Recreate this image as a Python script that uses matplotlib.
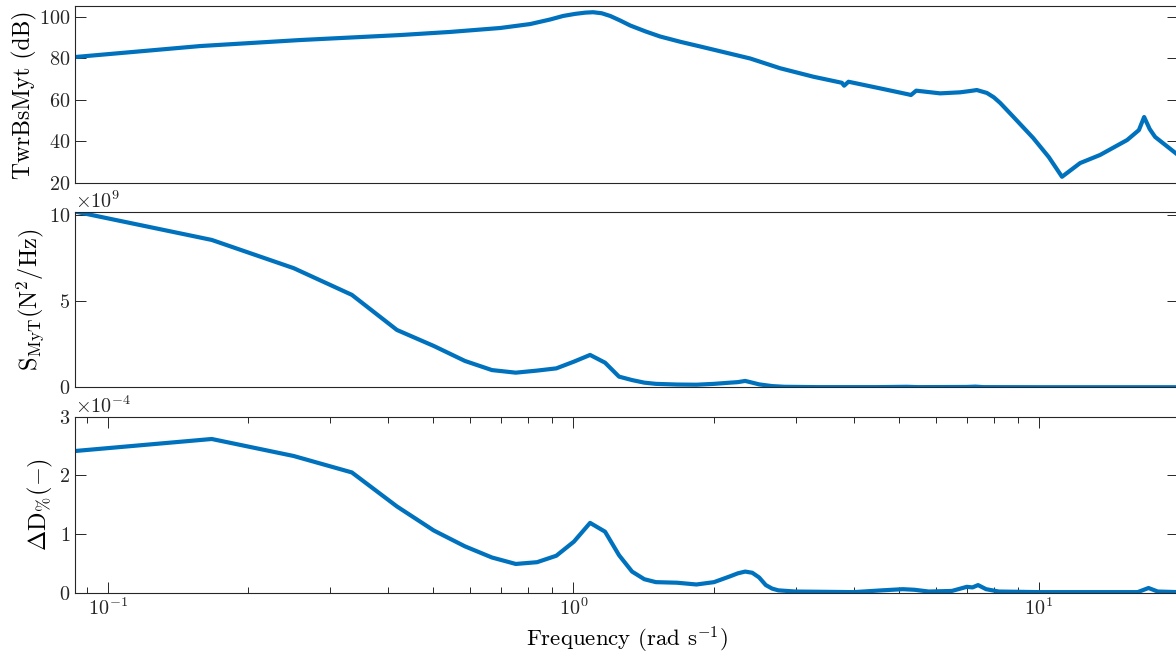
import matplotlib
matplotlib.use("Agg")
import matplotlib.pyplot as plt
from matplotlib.ticker import ScalarFormatter, NullFormatter
import numpy as np

plt.rcParams['font.family'] = 'serif'
plt.rcParams['font.serif'] = ['cmr10', 'DejaVu Serif']
plt.rcParams['mathtext.fontset'] = 'cm'
plt.rcParams['axes.unicode_minus'] = False
plt.rcParams['axes.formatter.use_mathtext'] = True

# top panel: TwrBsMyt magnitude (dB)
f_db = [0.0849, 0.1578, 0.2587, 0.4242, 0.5433, 0.6959, 0.807, 0.891, 0.95, 1.008,
        1.06, 1.102, 1.15, 1.199, 1.26, 1.324, 1.43, 1.535, 1.7, 1.871,
        2.1, 2.397, 2.780, 3.279, 3.772, 3.815, 3.898, 4.56, 5.245, 5.31,
        5.45, 6.135, 6.77, 7.1, 7.355, 7.73, 8.0, 8.255, 8.82, 9.72,
        10.5, 11.21, 12.26, 13.53, 15.47, 16.4, 16.83, 17.3, 17.77, 19.9]
mag_db = [80.7, 86.0, 88.9, 91.3, 92.8, 94.7, 96.6, 98.8, 100.5, 101.5,
          102.1, 102.3, 101.8, 100.5, 98.3, 95.9, 93.0, 90.6, 88.0, 85.8,
          83.1, 80.0, 75.3, 71.2, 68.3, 66.9, 68.8, 65.6, 62.7, 62.4,
          64.5, 63.2, 63.7, 64.3, 64.8, 63.4, 61.3, 58.6, 51.8, 41.7,
          32.5, 23.0, 29.6, 33.5, 40.7, 45.5, 51.8, 46.0, 42.2, 33.5]

# middle panel: S_MyT spectrum (x 1e9)
f_psd = [0.0835, 0.167, 0.2505, 0.334, 0.4175, 0.501, 0.5845, 0.668, 0.7515, 0.835,
         0.9185, 1.002, 1.0855, 1.169, 1.2525, 1.336, 1.4195, 1.503, 1.67, 1.837,
         2.004, 2.171, 2.2545, 2.338, 2.4215, 2.505, 2.6715, 2.84, 3.34, 4.5,
         5.2, 5.5, 7.0, 7.3, 7.6, 10.0, 19.9]
psd = [10.25, 8.56, 6.92, 5.37, 3.33, 2.4, 1.53, 1.0, 0.85, 0.97,
       1.1, 1.49, 1.88, 1.43, 0.62, 0.42, 0.27, 0.2, 0.16, 0.15,
       0.2, 0.27, 0.3, 0.37, 0.27, 0.17, 0.07, 0.03, 0.01, 0.01,
       0.03, 0.01, 0.02, 0.04, 0.01, 0.005, 0.005]

# bottom panel: damage contribution (x 1e-4)
f_dmg = [0.0835, 0.167, 0.2505, 0.334, 0.4175, 0.501, 0.5845, 0.668, 0.7515, 0.835,
         0.9185, 1.002, 1.0855, 1.169, 1.2525, 1.336, 1.4195, 1.503, 1.67, 1.837,
         2.004, 2.171, 2.2545, 2.338, 2.4215, 2.505, 2.589, 2.6715, 2.755, 3.0,
         4.0, 4.6, 5.1, 5.4, 5.8, 6.5, 7.0, 7.2, 7.4, 7.7,
         8.2, 10.0, 16.3, 17.2, 18.0, 19.9]
dmg = [2.41, 2.62, 2.33, 2.05, 1.47, 1.06, 0.79, 0.6, 0.49, 0.52,
       0.63, 0.87, 1.19, 1.04, 0.64, 0.36, 0.23, 0.18, 0.17, 0.14,
       0.18, 0.28, 0.33, 0.36, 0.34, 0.26, 0.13, 0.07, 0.04, 0.02,
       0.01, 0.04, 0.06, 0.05, 0.02, 0.03, 0.1, 0.09, 0.13, 0.06,
       0.02, 0.01, 0.01, 0.08, 0.02, 0.01]

blue = '#0072BD'
dark = '#262626'
W, H = 1176, 656

fig = plt.figure(figsize=(W / 100, H / 100), dpi=100)
left = 75 / W
width = (1178 - 75) / W
ax1 = fig.add_axes([left, 1 - 183 / H, width, 177 / H])
ax2 = fig.add_axes([left, 1 - 387.3 / H, width, 175.6 / H])
ax3 = fig.add_axes([left, 1 - 592.7 / H, width, 176 / H])

ax1.plot(f_db, mag_db, color=blue, lw=3)
ax2.plot(f_psd, np.array(psd) * 1e9, color=blue, lw=3)
ax3.plot(f_dmg, np.array(dmg) * 1e-4, color=blue, lw=3)

for ax in (ax1, ax2, ax3):
    ax.set_xscale('log')
    ax.set_xlim(0.0849, 19.9)
    for s in ax.spines.values():
        s.set_color(dark)
        s.set_linewidth(0.8)
    ax.tick_params(which='both', direction='in', colors=dark, labelsize=14.5,
                   top=True, right=True)
    ax.tick_params(which='major', length=8, width=0.7)
    ax.tick_params(which='minor', length=4.3, width=0.7)

# top two panels have no x ticks
for ax in (ax1, ax2):
    ax.set_xticks([])
    ax.set_xticks([], minor=True)

ax1.set_ylim(20, 105.3)
ax1.set_yticks([20, 40, 60, 80, 100])
ax1.set_ylabel('TwrBsMyt (dB)', fontsize=17, labelpad=1)

ax2.set_ylim(0, 10.2e9)
ax2.set_yticks([0, 5e9, 10e9])
fmt2 = ScalarFormatter(useMathText=True)
fmt2.set_powerlimits((9, 9))
ax2.yaxis.set_major_formatter(fmt2)
ax2.set_ylabel(r'$\mathrm{S_{MyT}(N^2/Hz)}$', fontsize=17.5, labelpad=1)

ax3.set_ylim(0, 3e-4)
ax3.set_yticks([0, 1e-4, 2e-4, 3e-4])
fmt3 = ScalarFormatter(useMathText=True)
fmt3.set_powerlimits((-4, -4))
ax3.yaxis.set_major_formatter(fmt3)
ax3.xaxis.set_minor_formatter(NullFormatter())
ax3.set_ylabel(r'$\Delta\mathrm{D_{\%}(-)}$', fontsize=17.5, labelpad=3)
ax3.set_xlabel(r'Frequency (rad s$^{-1}$)', fontsize=16.5)

for ax in (ax2, ax3):
    ax.yaxis.get_offset_text().set_fontsize(14.5)
    ax.yaxis.get_offset_text().set_color(dark)

fig.savefig('out.png', dpi=100)
